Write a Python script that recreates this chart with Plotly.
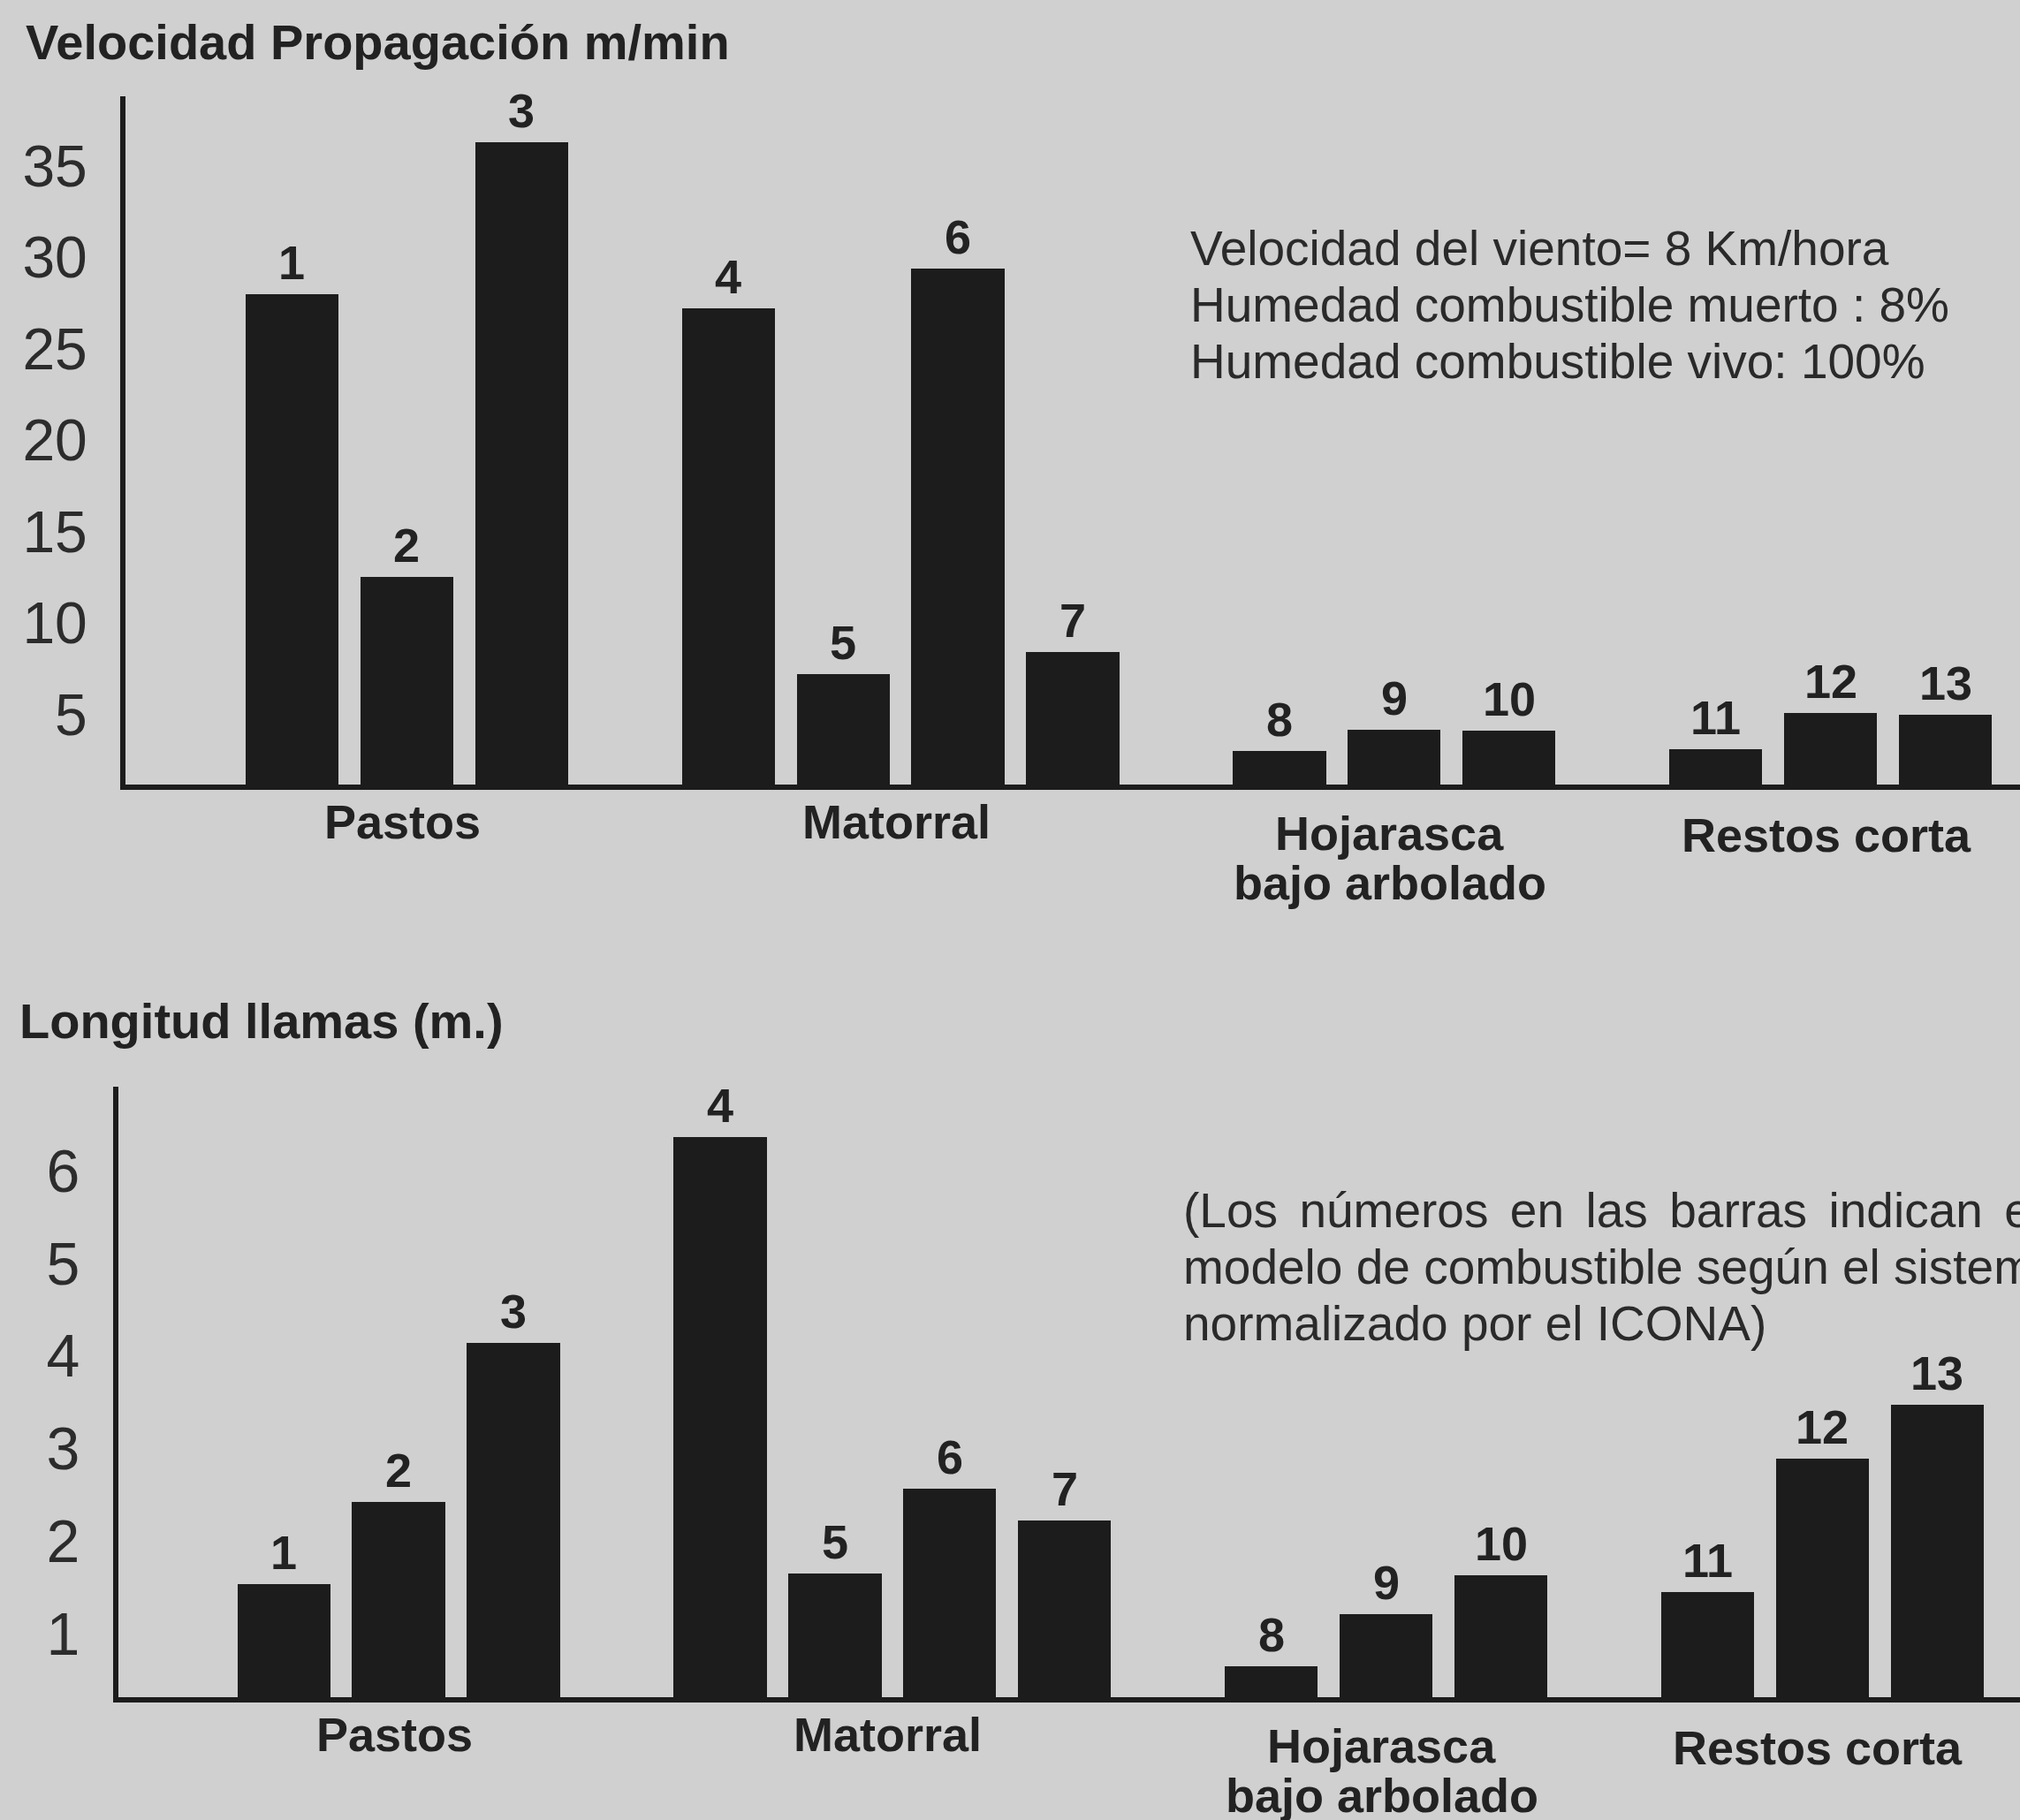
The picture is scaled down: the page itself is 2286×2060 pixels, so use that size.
import plotly.graph_objects as go

# ---------------- data ----------------
groups = ["Pastos", "Matorral", "Hojarasca<br>bajo arbolado", "Restos corta"]
group_sizes = [3, 4, 3, 3]
models = ["1", "2", "3", "4", "5", "6", "7", "8", "9", "10", "11", "12", "13"]
velocidad = [28.0, 12.5, 36.3, 27.2, 7.2, 29.4, 8.4, 3.0, 4.15, 4.1, 3.1, 5.05, 5.0]
longitud = [1.53, 2.42, 4.14, 6.37, 1.65, 2.56, 2.22, 0.64, 1.21, 1.63, 1.45, 2.89, 3.47]
vel_ticks = [5, 10, 15, 20, 25, 30, 35]
lon_ticks = [1, 2, 3, 4, 5, 6]

title_top = "Velocidad Propagación m/min"
title_bot = "Longitud llamas (m.)"
note_top = ["Velocidad del viento= 8 Km/hora",
            "Humedad combustible muerto : 8%",
            "Humedad combustible vivo: 100%"]
note_bot = ["(Los \u2006números \u2006en \u2006las \u2006barras \u2006indican \u2006el",
            "modelo de combustible según el sistema",
            "normalizado por el ICONA)"]

# ---------------- layout helpers ----------------
W, H = 2286, 2060
BG = "#d0d0d0"
INK = "#1c1c1c"
TXT = "#222222"
FONT = "Liberation Sans, Arial, Helvetica, sans-serif"
GROUP_GAP = 0.8

def fy(py):
    return 1 - py / H

xpos, gcenters = [], []
p = 0.0
for n in group_sizes:
    xs = [p + i for i in range(n)]
    xpos += xs
    gcenters.append(sum(xs) / n)
    p = xs[-1] + 1 + GROUP_GAP

fig = go.Figure()
fig.add_trace(go.Bar(x=xpos, y=velocidad, width=0.81, marker=dict(color=INK, line=dict(width=0)),
                     xaxis="x", yaxis="y", hoverinfo="skip"))
fig.add_trace(go.Bar(x=xpos, y=longitud, width=0.81, marker=dict(color=INK, line=dict(width=0)),
                     xaxis="x2", yaxis="y2", hoverinfo="skip"))

axis_common = dict(showgrid=False, zeroline=False, showline=True, linecolor=INK, linewidth=6)

ann = []
# bar number labels
for xr, yr, vals in (("x", "y", velocidad), ("x2", "y2", longitud)):
    for x, v, m in zip(xpos, vals, models):
        ann.append(dict(x=x, y=v, xref=xr, yref=yr, text="<b>%s</b>" % m, showarrow=False,
                        yanchor="bottom", yshift=4, font=dict(family=FONT, size=54, color=TXT)))

# category labels
drops = [42, 42, 55, 57]
for xr, base in (("x", 888), ("x2", 1921)):
    for gc, g, d in zip(gcenters, groups, drops):
        for i, line in enumerate(g.split("<br>")):
            ann.append(dict(x=gc, xref=xr, y=fy(base + d + i * 56), yref="paper", xshift=-5,
                            text="<b>%s</b>" % line, showarrow=False, yanchor="middle",
                            font=dict(family=FONT, size=54, color=TXT)))

# titles
ann.append(dict(x=27 / W, y=fy(48), xref="paper", yref="paper", text="<b>%s</b>" % title_top,
                showarrow=False, xanchor="left", yanchor="middle",
                font=dict(family=FONT, size=56, color=TXT)))
ann.append(dict(x=20 / W, y=fy(1155), xref="paper", yref="paper", text="<b>%s</b>" % title_bot,
                showarrow=False, xanchor="left", yanchor="middle",
                font=dict(family=FONT, size=56, color=TXT)))

# notes
for i, line in enumerate(note_top):
    ann.append(dict(x=1345 / W, y=fy(281 + 64 * i), xref="paper", yref="paper", text=line,
                    showarrow=False, xanchor="left", yanchor="middle",
                    font=dict(family=FONT, size=55, color="#2a2a2a")))
for i, line in enumerate(note_bot):
    ann.append(dict(x=1337 / W, y=fy(1370 + 64 * i), xref="paper", yref="paper", text=line,
                    showarrow=False, xanchor="left", yanchor="middle",
                    font=dict(family=FONT, size=55, color="#2a2a2a")))

fig.update_layout(
    width=W, height=H, autosize=False,
    margin=dict(l=0, r=0, t=0, b=0, pad=0),
    paper_bgcolor=BG, plot_bgcolor=BG,
    showlegend=False, bargap=0,
    xaxis=dict(domain=[142 / W, 1], range=[-1.45, 15.05], showticklabels=False, ticks="",
               anchor="y", **axis_common),
    yaxis=dict(domain=[fy(888), fy(109)], range=[1.16, 38.8], tickvals=vel_ticks, ticks="",
               tickfont=dict(family=FONT, size=66, color="#2c2c2c"), ticklabelstandoff=24,
               anchor="x", **axis_common),
    xaxis2=dict(domain=[134 / W, 1], range=[-1.44, 15.12], showticklabels=False, ticks="",
                anchor="y2", **axis_common),
    yaxis2=dict(domain=[fy(1921), fy(1230)], range=[0.31, 6.91], tickvals=lon_ticks, ticks="",
                tickfont=dict(family=FONT, size=68, color="#2c2c2c"), ticklabelstandoff=24,
                anchor="x2", **axis_common),
    annotations=ann,
)

fig.write_html("out.html", config={"displayModeBar": False},
               post_script="document.body.style.margin='0';document.body.style.overflow='hidden';")
